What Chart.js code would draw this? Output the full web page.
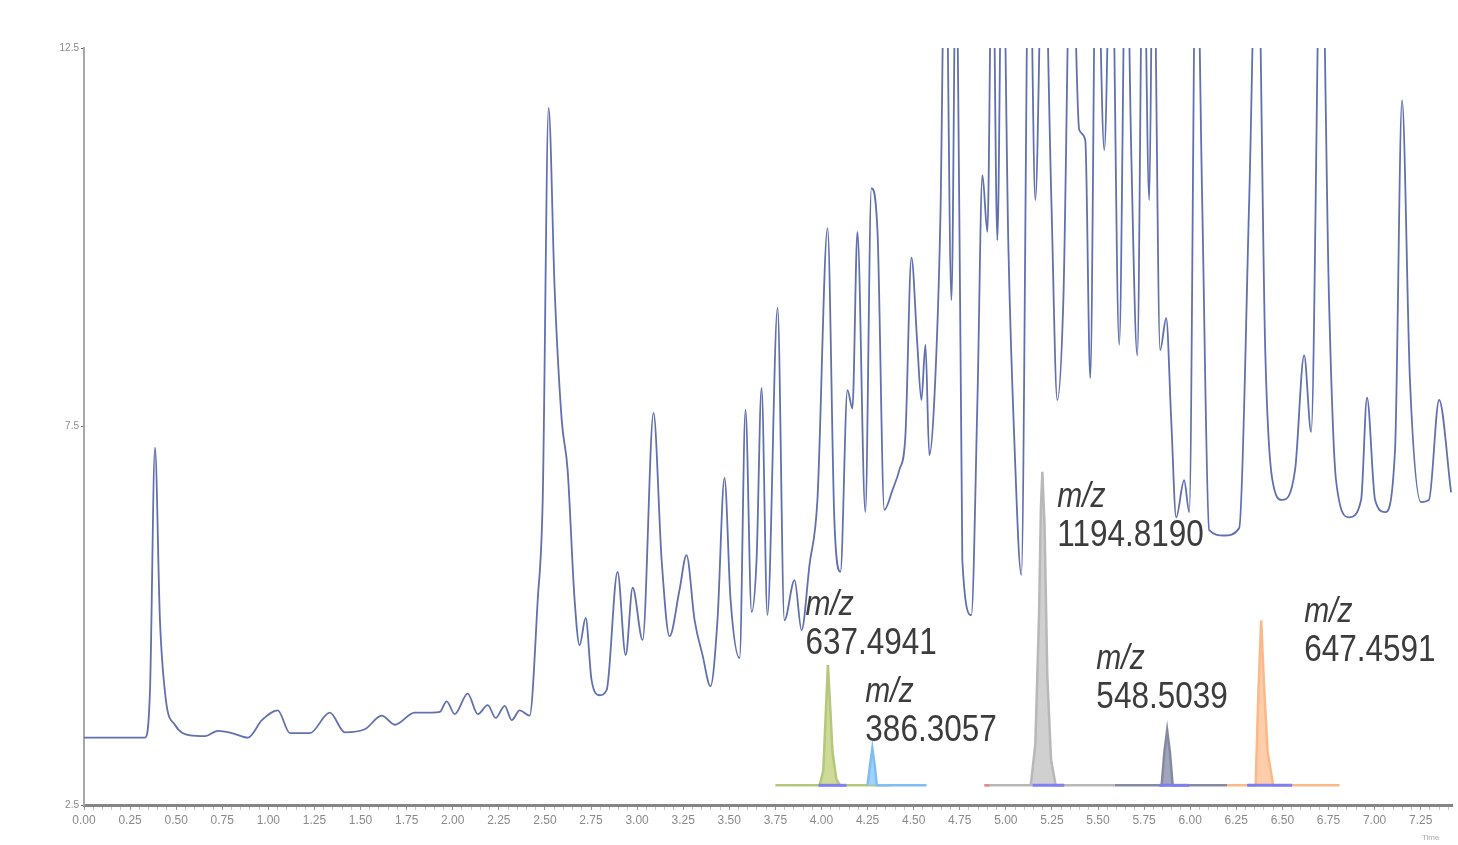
<!DOCTYPE html>
<html>
<head>
<meta charset="utf-8">
<script src="https://cdn.jsdelivr.net/npm/chart.js@4.4.0/dist/chart.umd.min.js"></script>
<style>
  html, body { margin: 0; padding: 0; background: #fff; }
  #wrap { width: 1458px; height: 845px; position: relative; }
</style>
</head>
<body>
<div id="wrap"><canvas id="myChart"></canvas></div>
<script>
// total ion chromatogram: retention time (min) and intensity
var ticTime = [0.000,0.331,0.358,0.385,0.412,0.444,0.493,0.575,0.656,0.726,
  0.802,0.889,0.965,1.051,1.117,1.225,1.333,1.415,1.523,1.615,
  1.686,1.794,1.886,1.930,1.967,2.011,2.081,2.136,2.190,2.233,
  2.282,2.320,2.363,2.417,2.461,2.488,2.520,2.553,2.591,2.623,
  2.661,2.688,2.721,2.753,2.797,2.835,2.894,2.938,2.976,3.030,
  3.089,3.133,3.176,3.230,3.268,3.312,3.355,3.398,3.436,3.474,
  3.507,3.556,3.588,3.621,3.648,3.675,3.707,3.762,3.799,3.854,
  3.892,3.935,3.978,4.033,4.070,4.103,4.141,4.168,4.195,4.238,
  4.271,4.304,4.341,4.385,4.423,4.455,4.488,4.520,4.542,4.564,
  4.585,4.612,4.645,4.672,4.705,4.732,4.764,4.813,4.846,4.873,
  4.900,4.927,4.954,4.981,5.014,5.046,5.084,5.127,5.160,5.203,
  5.247,5.279,5.312,5.355,5.398,5.431,5.458,5.491,5.534,5.572,
  5.615,5.653,5.680,5.713,5.745,5.778,5.799,5.837,5.870,5.897,
  5.924,5.967,5.995,6.033,6.065,6.103,6.184,6.266,6.320,6.363,
  6.407,6.444,6.499,6.569,6.618,6.656,6.710,6.753,6.791,6.862,
  6.927,6.959,7.003,7.057,7.111,7.149,7.192,7.252,7.295,7.350,7.415];
var ticIntensity = [3.39,3.39,4.02,7.22,4.94,3.89,3.56,3.42,3.41,3.48,
  3.45,3.39,3.62,3.75,3.45,3.45,3.72,3.46,3.50,3.68,
  3.56,3.72,3.72,3.73,3.87,3.70,3.97,3.70,3.82,3.65,
  3.81,3.62,3.75,3.68,5.21,6.53,11.71,9.30,7.59,6.93,
  5.21,4.61,4.97,4.15,3.95,4.02,5.58,4.48,5.37,4.68,
  7.68,5.74,4.73,5.34,5.80,4.94,4.48,4.07,4.94,6.82,
  5.21,4.44,7.72,5.05,5.74,8.01,5.01,9.07,4.94,5.47,
  4.81,5.67,6.53,10.12,6.26,5.58,7.98,7.74,10.07,6.37,
  10.65,10.07,6.40,6.66,6.93,7.37,9.73,8.58,7.85,8.58,
  7.12,7.85,10.25,14.5,9.17,14.5,5.74,5.01,7.85,10.82,
  10.07,14.5,9.96,14.5,9.86,7.32,5.54,14.5,10.49,14.5,
  10.49,7.85,9.17,14.5,11.42,11.28,8.14,14.5,11.15,14.5,
  8.58,14.5,11.15,8.44,14.5,10.49,14.5,8.51,8.93,7.59,
  6.30,6.79,6.37,14.5,10.49,6.13,6.06,6.16,10.49,14.5,
  8.51,6.82,6.53,6.93,8.44,7.43,14.5,9.17,6.79,6.30,
  6.53,7.88,6.53,6.37,7.19,11.81,8.11,6.50,6.53,7.85,6.63];

// extracted ion chromatograms drawn inset along the bottom
var eicBase = 2.76;
var eic637Time = [3.75,3.99,4.01,4.025,4.035,4.045,4.06,4.08,4.10,4.37];
var eic637Intensity = [2.76,2.76,2.95,3.8,4.35,3.9,3.2,2.85,2.76,2.76];
var eic386Time = [4.25,4.262,4.276,4.29,4.30,4.57];
var eic386Intensity = [2.76,3.0,3.25,3.0,2.76,2.76];
var eic1194Time = [4.89,5.135,5.16,5.18,5.19,5.198,5.21,5.225,5.245,5.27,5.59];
var eic1194Intensity = [2.76,2.76,3.3,5.0,6.4,6.9,6.2,4.2,3.1,2.76,2.76];
var eic548Time = [5.59,5.845,5.86,5.875,5.89,5.905,6.20];
var eic548Intensity = [2.76,2.76,3.2,3.49,3.2,2.76,2.76];
var eic647Time = [6.20,6.355,6.37,6.385,6.40,6.42,6.45,6.81];
var eic647Intensity = [2.76,2.76,4.0,4.94,4.1,3.2,2.76,2.76];
// integration windows under each peak (start, end)
var integStart = [3.984,5.144,5.832,6.309];
var integEnd = [4.136,5.317,5.995,6.553];

// peak labels
var peakMz = ['637.4941','386.3057','1194.8190','548.5039','647.4591'];
var peakLabelTime = [3.913,4.238,5.279,5.491,6.618];
var peakLabelLevel = [5.14,3.99,6.56,4.42,5.04];

var xTickLabels = ['0.00','0.25','0.50','0.75','1.00','1.25','1.50','1.75','2.00','2.25','2.50','2.75',
  '3.00','3.25','3.50','3.75','4.00','4.25','4.50','4.75','5.00','5.25','5.50','5.75','6.00','6.25',
  '6.50','6.75','7.00','7.25'];
var yTickValues = [2.5, 7.5, 12.5];
var yTickLabels = ['2.5', '7.5', '12.5'];

function pts(t, v) {
  return t.map(function(x, i) { return { x: x, y: v[i] }; });
}

function eicSet(t, v, line, fillCol) {
  return {
    data: pts(t, v),
    borderColor: line,
    backgroundColor: fillCol,
    borderWidth: 2.5,
    fill: { value: eicBase },
    pointRadius: 0,
    tension: 0,
    order: 2
  };
}

var datasets = [{
  data: pts(ticTime, ticIntensity),
  borderColor: '#6170ae',
  borderWidth: 1.8,
  pointRadius: 0,
  fill: false,
  cubicInterpolationMode: 'monotone',
  order: 10
}];
datasets.push(eicSet(eic386Time, eic386Intensity, '#7fbef5', 'rgba(150,205,250,0.9)'));
datasets.push(eicSet(eic637Time, eic637Intensity, '#b5c77a', 'rgba(200,215,140,0.9)'));
datasets.push(eicSet(eic1194Time, eic1194Intensity, '#b8b8b8', 'rgba(205,205,205,0.95)'));
datasets.push(eicSet(eic548Time, eic548Intensity, '#858aa3', 'rgba(150,155,180,0.9)'));
datasets.push(eicSet(eic647Time, eic647Intensity, '#fbb98a', 'rgba(255,200,160,0.9)'));
datasets.push({
  data: [{ x: 4.883, y: eicBase }, { x: 4.911, y: eicBase }],
  borderColor: '#e08a8a', borderWidth: 2.5, pointRadius: 0, fill: false, order: 1
});
integStart.forEach(function(s, i) {
  datasets.push({
    data: [{ x: s, y: eicBase }, { x: integEnd[i], y: eicBase }],
    borderColor: '#7f7ff2', borderWidth: 3, pointRadius: 0, fill: false, order: 0
  });
});

var labelPlugin = {
  id: 'peakLabels',
  afterDatasetsDraw: function(chart) {
    var c = chart.ctx, xs = chart.scales.x, ys = chart.scales.y;
    c.save();
    c.fillStyle = '#3c3c3c';
    c.textAlign = 'left';
    c.textBaseline = 'middle';
    peakMz.forEach(function(mz, i) {
      var px = xs.getPixelForValue(peakLabelTime[i]);
      var py = ys.getPixelForValue(peakLabelLevel[i]);
      c.save();
      c.translate(px, py);
      c.scale(1, 1.15);
      c.font = 'italic 30px "Liberation Sans", Arial, sans-serif';
      c.fillText('m/z', 0, 0);
      c.font = '31.5px "Liberation Sans", Arial, sans-serif';
      c.fillText(mz, 0, 33.5);
      c.restore();
    });
    c.font = '8px "Liberation Sans", Arial, sans-serif';
    c.fillStyle = '#aaa';
    c.fillText('Time', 1422, 838);
    c.restore();
  }
};

var ctx = document.getElementById('myChart').getContext('2d');
var myChart = new Chart(ctx, {
  type: 'line',
  data: { datasets: datasets },
  options: {
    responsive: true,
    maintainAspectRatio: false,
    animation: false,
    layout: { padding: { top: 48, right: 6, left: 0, bottom: 0 } },
    plugins: { legend: { display: false }, tooltip: { enabled: false } },
    scales: {
      x: {
        type: 'linear',
        min: 0,
        max: 7.42,
        afterBuildTicks: function(scale) {
          var t = [];
          for (var i = 0; i <= 148; i++) t.push({ value: Math.round(i * 5) / 100 });
          scale.ticks = t;
        },
        afterFit: function(scale) { scale.height = 40; },
        border: { color: '#858585', width: 3 },
        grid: {
          drawOnChartArea: false,
          tickLength: 5,
          tickColor: function(c) {
            return Math.abs(c.tick.value / 0.25 - Math.round(c.tick.value / 0.25)) < 1e-6 ? '#999' : '#c4c4c4';
          }
        },
        ticks: {
          autoSkip: false,
          maxRotation: 0,
          padding: 3,
          color: '#8a8a8a',
          font: { size: 12, family: '"Liberation Sans", Arial, sans-serif' },
          callback: function(v) {
            for (var i = 0; i < xTickLabels.length; i++) {
              if (Math.abs(parseFloat(xTickLabels[i]) - v) < 1e-6) return xTickLabels[i];
            }
            return '';
          }
        }
      },
      y: {
        min: 2.5,
        max: 12.5,
        afterBuildTicks: function(scale) {
          scale.ticks = yTickValues.map(function(v) { return { value: v }; });
        },
        afterFit: function(scale) { scale.width = 84; },
        border: { color: '#a8a8a8', width: 2 },
        grid: { drawOnChartArea: false, tickLength: 3, tickColor: '#666' },
        ticks: {
          padding: 2,
          color: '#8a8a8a',
          font: { size: 10, family: '"Liberation Sans", Arial, sans-serif' },
          callback: function(v, i) { return yTickLabels[i]; }
        }
      }
    }
  },
  plugins: [labelPlugin]
});
</script>
</body>
</html>
